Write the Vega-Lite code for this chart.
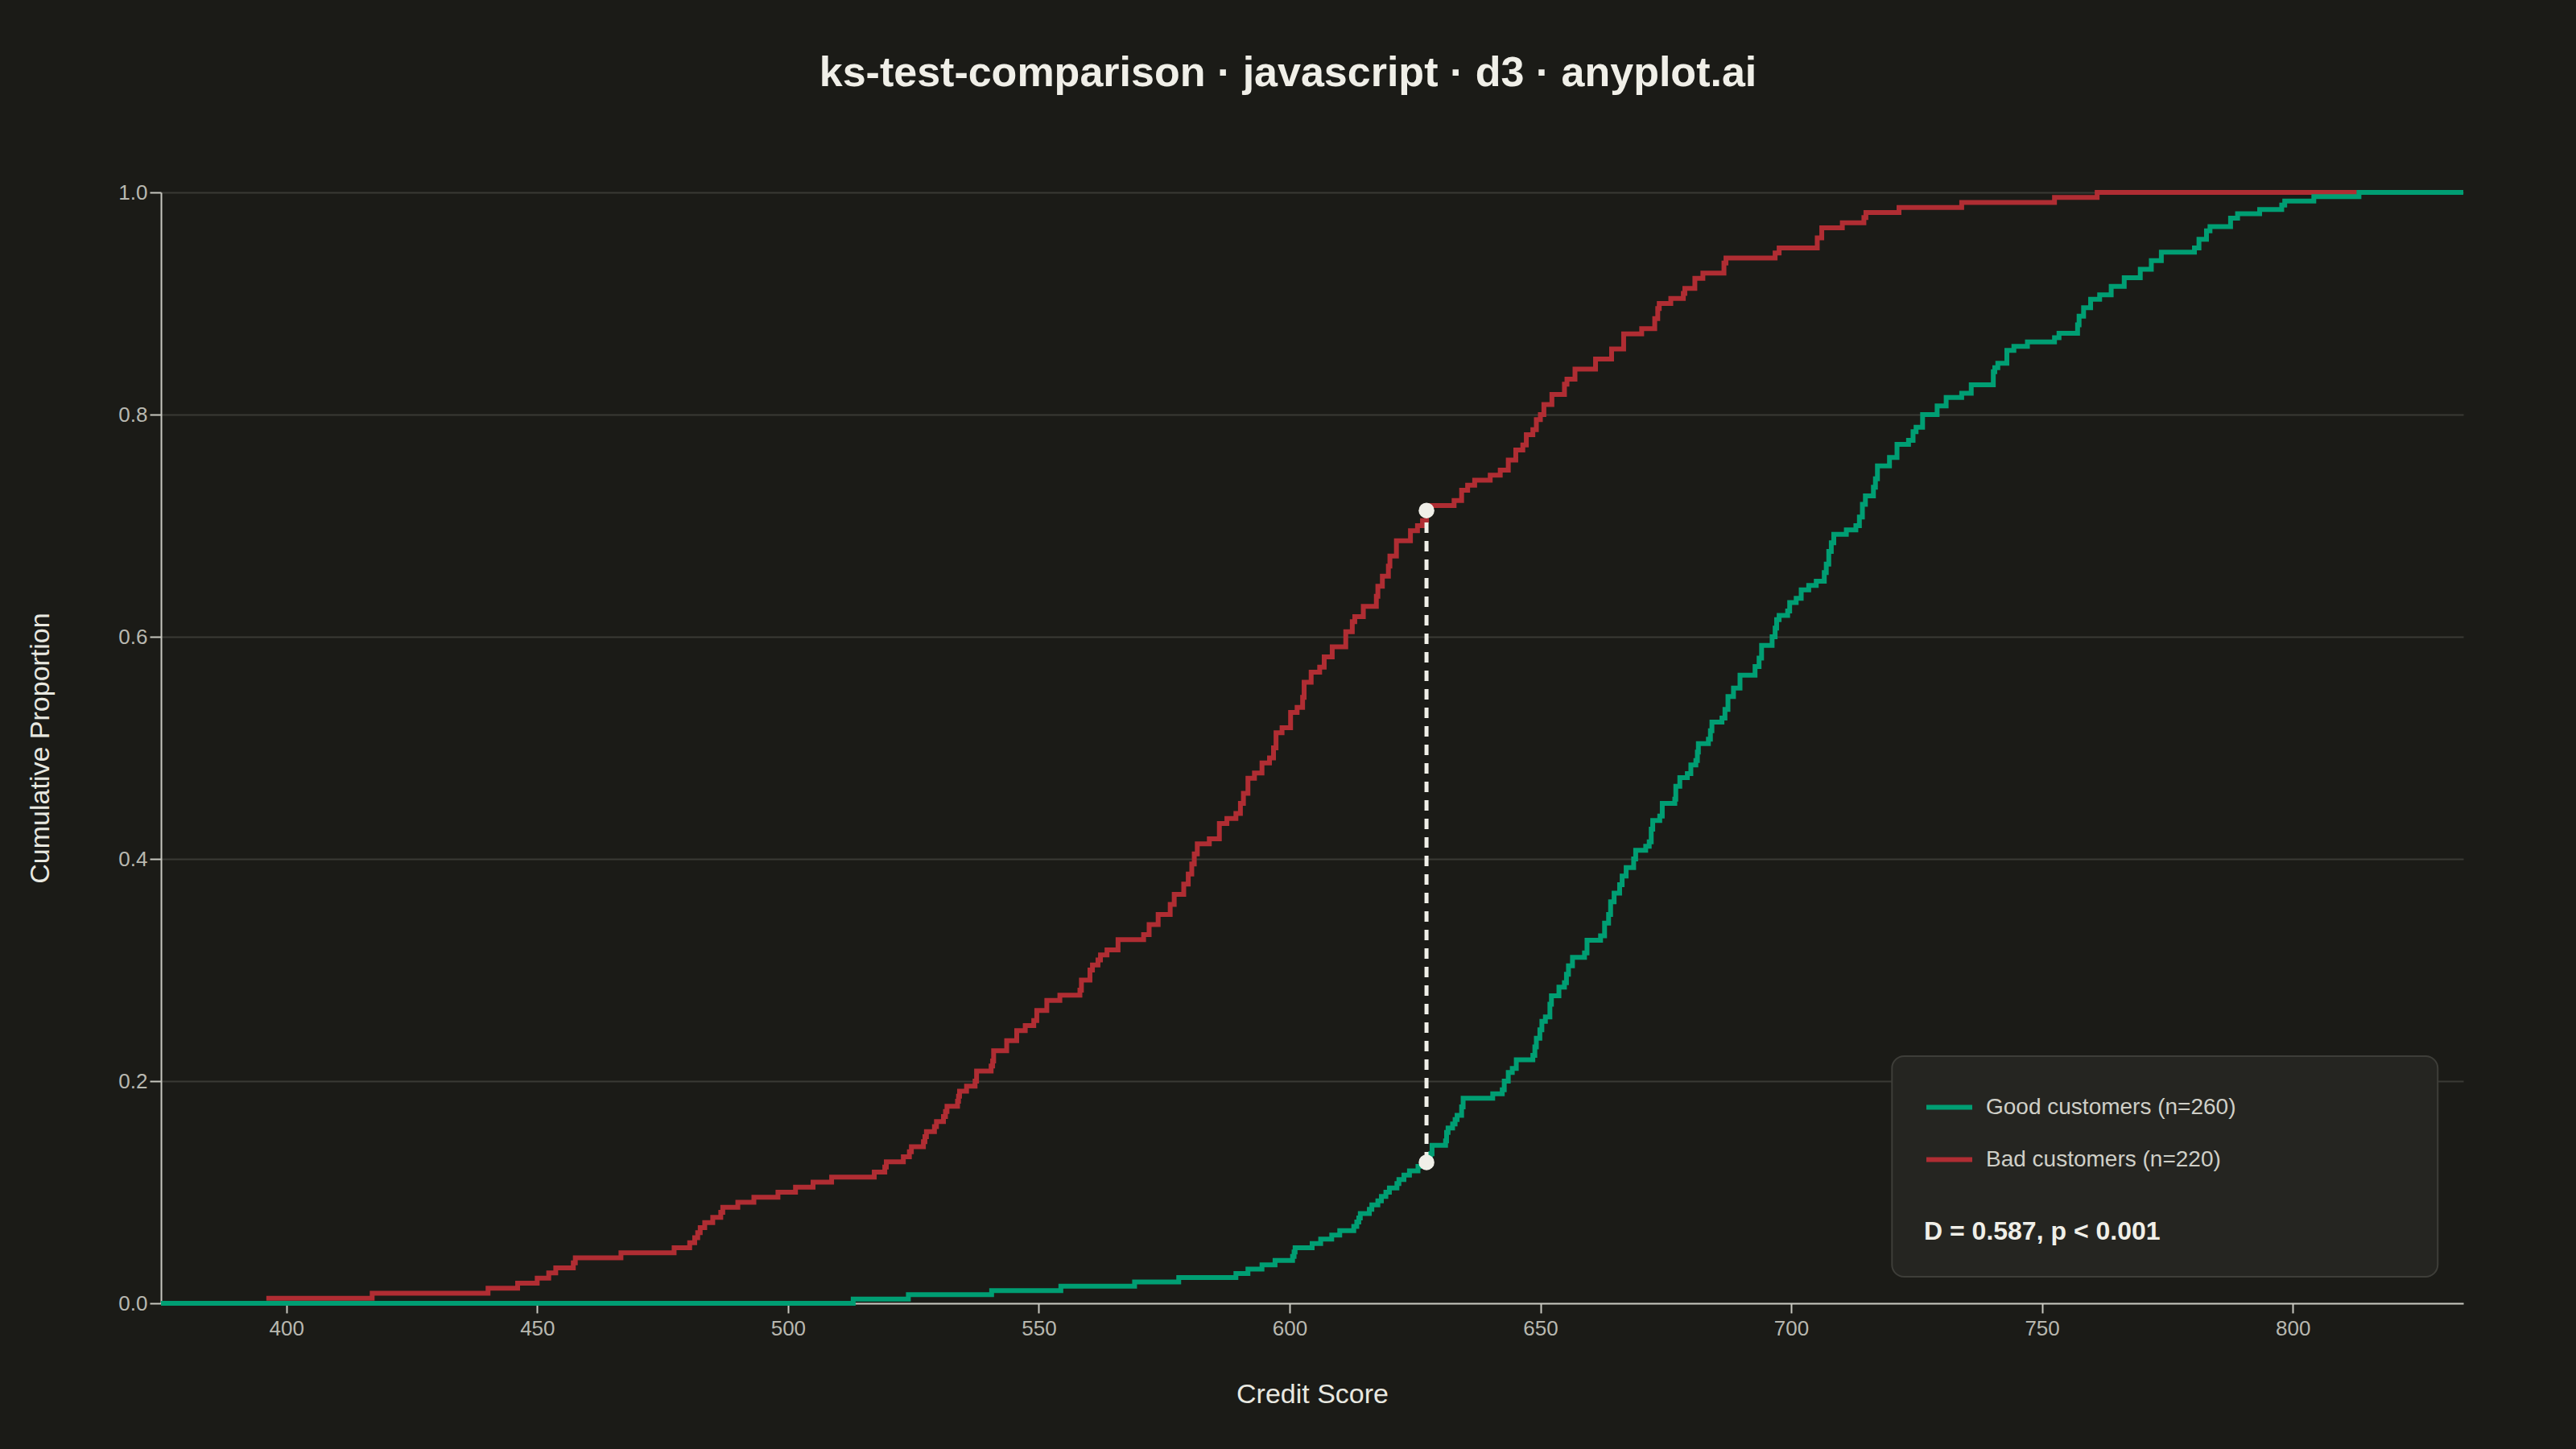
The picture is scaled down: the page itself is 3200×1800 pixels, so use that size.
{
  "$schema": "https://vega.github.io/schema/vega-lite/v6.json",
  "width": 2860,
  "height": 1380,
  "autosize": {"type": "none"},
  "padding": {"left": 200, "top": 239, "right": 140, "bottom": 181},
  "background": "#1b1b17",
  "title": {
    "text": "ks-test-comparison · javascript · d3 · anyplot.ai",
    "font": "Liberation Sans",
    "fontSize": 52,
    "fontWeight": "bold",
    "color": "#f0efe8",
    "anchor": "middle",
    "dx": -30,
    "offset": 67,
    "baseline": "alphabetic"
  },
  "datasets": {
    "ecdf": [
      {"score": 396, "proportion": 0.0045, "group": "Bad customers (n=220)"},
      {"score": 417.1, "proportion": 0.0091, "group": "Bad customers (n=220)"},
      {"score": 440.2, "proportion": 0.0136, "group": "Bad customers (n=220)"},
      {"score": 446.1, "proportion": 0.0182, "group": "Bad customers (n=220)"},
      {"score": 450.0, "proportion": 0.0227, "group": "Bad customers (n=220)"},
      {"score": 452.3, "proportion": 0.0273, "group": "Bad customers (n=220)"},
      {"score": 453.7, "proportion": 0.0318, "group": "Bad customers (n=220)"},
      {"score": 457.2, "proportion": 0.0364, "group": "Bad customers (n=220)"},
      {"score": 457.6, "proportion": 0.0409, "group": "Bad customers (n=220)"},
      {"score": 466.7, "proportion": 0.0455, "group": "Bad customers (n=220)"},
      {"score": 477.3, "proportion": 0.05, "group": "Bad customers (n=220)"},
      {"score": 480.4, "proportion": 0.0545, "group": "Bad customers (n=220)"},
      {"score": 481.4, "proportion": 0.0591, "group": "Bad customers (n=220)"},
      {"score": 482.0, "proportion": 0.0636, "group": "Bad customers (n=220)"},
      {"score": 482.5, "proportion": 0.0682, "group": "Bad customers (n=220)"},
      {"score": 483.4, "proportion": 0.0727, "group": "Bad customers (n=220)"},
      {"score": 485.0, "proportion": 0.0773, "group": "Bad customers (n=220)"},
      {"score": 486.6, "proportion": 0.0818, "group": "Bad customers (n=220)"},
      {"score": 487.0, "proportion": 0.0864, "group": "Bad customers (n=220)"},
      {"score": 490.0, "proportion": 0.0909, "group": "Bad customers (n=220)"},
      {"score": 493.2, "proportion": 0.0955, "group": "Bad customers (n=220)"},
      {"score": 498.0, "proportion": 0.1, "group": "Bad customers (n=220)"},
      {"score": 501.5, "proportion": 0.1045, "group": "Bad customers (n=220)"},
      {"score": 505.0, "proportion": 0.1091, "group": "Bad customers (n=220)"},
      {"score": 508.7, "proportion": 0.1136, "group": "Bad customers (n=220)"},
      {"score": 517.2, "proportion": 0.1182, "group": "Bad customers (n=220)"},
      {"score": 519.3, "proportion": 0.1227, "group": "Bad customers (n=220)"},
      {"score": 519.6, "proportion": 0.1273, "group": "Bad customers (n=220)"},
      {"score": 523.0, "proportion": 0.1318, "group": "Bad customers (n=220)"},
      {"score": 524.2, "proportion": 0.1364, "group": "Bad customers (n=220)"},
      {"score": 524.6, "proportion": 0.1409, "group": "Bad customers (n=220)"},
      {"score": 527.0, "proportion": 0.1455, "group": "Bad customers (n=220)"},
      {"score": 527.3, "proportion": 0.15, "group": "Bad customers (n=220)"},
      {"score": 527.6, "proportion": 0.1545, "group": "Bad customers (n=220)"},
      {"score": 529.2, "proportion": 0.1591, "group": "Bad customers (n=220)"},
      {"score": 529.6, "proportion": 0.1636, "group": "Bad customers (n=220)"},
      {"score": 531.0, "proportion": 0.1682, "group": "Bad customers (n=220)"},
      {"score": 531.4, "proportion": 0.1727, "group": "Bad customers (n=220)"},
      {"score": 531.7, "proportion": 0.1773, "group": "Bad customers (n=220)"},
      {"score": 533.8, "proportion": 0.1818, "group": "Bad customers (n=220)"},
      {"score": 534.0, "proportion": 0.1864, "group": "Bad customers (n=220)"},
      {"score": 534.2, "proportion": 0.1909, "group": "Bad customers (n=220)"},
      {"score": 535.6, "proportion": 0.1955, "group": "Bad customers (n=220)"},
      {"score": 537.3, "proportion": 0.2, "group": "Bad customers (n=220)"},
      {"score": 537.6, "proportion": 0.2091, "group": "Bad customers (n=220)"},
      {"score": 540.5, "proportion": 0.2136, "group": "Bad customers (n=220)"},
      {"score": 540.8, "proportion": 0.2182, "group": "Bad customers (n=220)"},
      {"score": 541.0, "proportion": 0.2273, "group": "Bad customers (n=220)"},
      {"score": 543.6, "proportion": 0.2364, "group": "Bad customers (n=220)"},
      {"score": 545.6, "proportion": 0.2455, "group": "Bad customers (n=220)"},
      {"score": 547.3, "proportion": 0.25, "group": "Bad customers (n=220)"},
      {"score": 549.0, "proportion": 0.2545, "group": "Bad customers (n=220)"},
      {"score": 549.6, "proportion": 0.2636, "group": "Bad customers (n=220)"},
      {"score": 551.6, "proportion": 0.2727, "group": "Bad customers (n=220)"},
      {"score": 554.2, "proportion": 0.2773, "group": "Bad customers (n=220)"},
      {"score": 558.2, "proportion": 0.2818, "group": "Bad customers (n=220)"},
      {"score": 558.5, "proportion": 0.2909, "group": "Bad customers (n=220)"},
      {"score": 560.2, "proportion": 0.3, "group": "Bad customers (n=220)"},
      {"score": 560.7, "proportion": 0.3045, "group": "Bad customers (n=220)"},
      {"score": 561.8, "proportion": 0.3091, "group": "Bad customers (n=220)"},
      {"score": 562.3, "proportion": 0.3136, "group": "Bad customers (n=220)"},
      {"score": 563.6, "proportion": 0.3182, "group": "Bad customers (n=220)"},
      {"score": 565.8, "proportion": 0.3273, "group": "Bad customers (n=220)"},
      {"score": 570.9, "proportion": 0.3318, "group": "Bad customers (n=220)"},
      {"score": 572.0, "proportion": 0.3409, "group": "Bad customers (n=220)"},
      {"score": 573.8, "proportion": 0.35, "group": "Bad customers (n=220)"},
      {"score": 576.2, "proportion": 0.3591, "group": "Bad customers (n=220)"},
      {"score": 577.0, "proportion": 0.3682, "group": "Bad customers (n=220)"},
      {"score": 578.9, "proportion": 0.3773, "group": "Bad customers (n=220)"},
      {"score": 579.8, "proportion": 0.3864, "group": "Bad customers (n=220)"},
      {"score": 580.5, "proportion": 0.3955, "group": "Bad customers (n=220)"},
      {"score": 581.0, "proportion": 0.4045, "group": "Bad customers (n=220)"},
      {"score": 581.6, "proportion": 0.4136, "group": "Bad customers (n=220)"},
      {"score": 584.0, "proportion": 0.4182, "group": "Bad customers (n=220)"},
      {"score": 586.0, "proportion": 0.4318, "group": "Bad customers (n=220)"},
      {"score": 587.5, "proportion": 0.4364, "group": "Bad customers (n=220)"},
      {"score": 589.3, "proportion": 0.4409, "group": "Bad customers (n=220)"},
      {"score": 590.2, "proportion": 0.45, "group": "Bad customers (n=220)"},
      {"score": 590.8, "proportion": 0.4591, "group": "Bad customers (n=220)"},
      {"score": 591.7, "proportion": 0.4727, "group": "Bad customers (n=220)"},
      {"score": 593.0, "proportion": 0.4773, "group": "Bad customers (n=220)"},
      {"score": 594.5, "proportion": 0.4864, "group": "Bad customers (n=220)"},
      {"score": 596.0, "proportion": 0.4909, "group": "Bad customers (n=220)"},
      {"score": 596.8, "proportion": 0.5, "group": "Bad customers (n=220)"},
      {"score": 597.3, "proportion": 0.5136, "group": "Bad customers (n=220)"},
      {"score": 598.5, "proportion": 0.5182, "group": "Bad customers (n=220)"},
      {"score": 600.2, "proportion": 0.5318, "group": "Bad customers (n=220)"},
      {"score": 601.5, "proportion": 0.5364, "group": "Bad customers (n=220)"},
      {"score": 602.6, "proportion": 0.5455, "group": "Bad customers (n=220)"},
      {"score": 602.9, "proportion": 0.5591, "group": "Bad customers (n=220)"},
      {"score": 604.3, "proportion": 0.5682, "group": "Bad customers (n=220)"},
      {"score": 606.0, "proportion": 0.5727, "group": "Bad customers (n=220)"},
      {"score": 606.9, "proportion": 0.5818, "group": "Bad customers (n=220)"},
      {"score": 608.5, "proportion": 0.5909, "group": "Bad customers (n=220)"},
      {"score": 611.2, "proportion": 0.6045, "group": "Bad customers (n=220)"},
      {"score": 612.5, "proportion": 0.6136, "group": "Bad customers (n=220)"},
      {"score": 613.0, "proportion": 0.6182, "group": "Bad customers (n=220)"},
      {"score": 614.7, "proportion": 0.6273, "group": "Bad customers (n=220)"},
      {"score": 617.3, "proportion": 0.6364, "group": "Bad customers (n=220)"},
      {"score": 617.6, "proportion": 0.6455, "group": "Bad customers (n=220)"},
      {"score": 618.5, "proportion": 0.6545, "group": "Bad customers (n=220)"},
      {"score": 619.7, "proportion": 0.6636, "group": "Bad customers (n=220)"},
      {"score": 620.0, "proportion": 0.6727, "group": "Bad customers (n=220)"},
      {"score": 621.3, "proportion": 0.6864, "group": "Bad customers (n=220)"},
      {"score": 624.1, "proportion": 0.6955, "group": "Bad customers (n=220)"},
      {"score": 625.5, "proportion": 0.7, "group": "Bad customers (n=220)"},
      {"score": 626.5, "proportion": 0.7045, "group": "Bad customers (n=220)"},
      {"score": 627.3, "proportion": 0.7136, "group": "Bad customers (n=220)"},
      {"score": 628.0, "proportion": 0.7182, "group": "Bad customers (n=220)"},
      {"score": 632.8, "proportion": 0.7227, "group": "Bad customers (n=220)"},
      {"score": 634.3, "proportion": 0.7318, "group": "Bad customers (n=220)"},
      {"score": 635.5, "proportion": 0.7364, "group": "Bad customers (n=220)"},
      {"score": 636.9, "proportion": 0.7409, "group": "Bad customers (n=220)"},
      {"score": 640.0, "proportion": 0.7455, "group": "Bad customers (n=220)"},
      {"score": 642.0, "proportion": 0.75, "group": "Bad customers (n=220)"},
      {"score": 643.6, "proportion": 0.7591, "group": "Bad customers (n=220)"},
      {"score": 645.1, "proportion": 0.7682, "group": "Bad customers (n=220)"},
      {"score": 646.5, "proportion": 0.7727, "group": "Bad customers (n=220)"},
      {"score": 647.2, "proportion": 0.7818, "group": "Bad customers (n=220)"},
      {"score": 648.5, "proportion": 0.7864, "group": "Bad customers (n=220)"},
      {"score": 649.2, "proportion": 0.7955, "group": "Bad customers (n=220)"},
      {"score": 650.0, "proportion": 0.8, "group": "Bad customers (n=220)"},
      {"score": 650.7, "proportion": 0.8091, "group": "Bad customers (n=220)"},
      {"score": 652.3, "proportion": 0.8182, "group": "Bad customers (n=220)"},
      {"score": 654.8, "proportion": 0.8273, "group": "Bad customers (n=220)"},
      {"score": 655.3, "proportion": 0.8318, "group": "Bad customers (n=220)"},
      {"score": 656.9, "proportion": 0.8409, "group": "Bad customers (n=220)"},
      {"score": 661.0, "proportion": 0.85, "group": "Bad customers (n=220)"},
      {"score": 664.2, "proportion": 0.8591, "group": "Bad customers (n=220)"},
      {"score": 666.6, "proportion": 0.8727, "group": "Bad customers (n=220)"},
      {"score": 670.2, "proportion": 0.8773, "group": "Bad customers (n=220)"},
      {"score": 672.8, "proportion": 0.8864, "group": "Bad customers (n=220)"},
      {"score": 673.4, "proportion": 0.8955, "group": "Bad customers (n=220)"},
      {"score": 673.7, "proportion": 0.9, "group": "Bad customers (n=220)"},
      {"score": 676.0, "proportion": 0.9045, "group": "Bad customers (n=220)"},
      {"score": 678.5, "proportion": 0.9091, "group": "Bad customers (n=220)"},
      {"score": 678.8, "proportion": 0.9136, "group": "Bad customers (n=220)"},
      {"score": 680.8, "proportion": 0.9227, "group": "Bad customers (n=220)"},
      {"score": 682.4, "proportion": 0.9273, "group": "Bad customers (n=220)"},
      {"score": 686.6, "proportion": 0.9364, "group": "Bad customers (n=220)"},
      {"score": 687.0, "proportion": 0.9409, "group": "Bad customers (n=220)"},
      {"score": 696.8, "proportion": 0.9455, "group": "Bad customers (n=220)"},
      {"score": 697.6, "proportion": 0.95, "group": "Bad customers (n=220)"},
      {"score": 705.2, "proportion": 0.9591, "group": "Bad customers (n=220)"},
      {"score": 706.1, "proportion": 0.9682, "group": "Bad customers (n=220)"},
      {"score": 710.2, "proportion": 0.9727, "group": "Bad customers (n=220)"},
      {"score": 714.5, "proportion": 0.9773, "group": "Bad customers (n=220)"},
      {"score": 714.9, "proportion": 0.9818, "group": "Bad customers (n=220)"},
      {"score": 721.5, "proportion": 0.9864, "group": "Bad customers (n=220)"},
      {"score": 734.0, "proportion": 0.9909, "group": "Bad customers (n=220)"},
      {"score": 752.5, "proportion": 0.9955, "group": "Bad customers (n=220)"},
      {"score": 761.0, "proportion": 1.0, "group": "Bad customers (n=220)"},
      {"score": 812.8, "proportion": 1.0, "group": "Bad customers (n=220)"},
      {"score": 375, "proportion": 0, "group": "Good customers (n=260)"},
      {"score": 513.0, "proportion": 0.0038, "group": "Good customers (n=260)"},
      {"score": 524.0, "proportion": 0.0077, "group": "Good customers (n=260)"},
      {"score": 540.6, "proportion": 0.0115, "group": "Good customers (n=260)"},
      {"score": 554.4, "proportion": 0.0154, "group": "Good customers (n=260)"},
      {"score": 569.1, "proportion": 0.0192, "group": "Good customers (n=260)"},
      {"score": 577.9, "proportion": 0.0231, "group": "Good customers (n=260)"},
      {"score": 589.3, "proportion": 0.0269, "group": "Good customers (n=260)"},
      {"score": 591.7, "proportion": 0.0308, "group": "Good customers (n=260)"},
      {"score": 594.5, "proportion": 0.0346, "group": "Good customers (n=260)"},
      {"score": 597.1, "proportion": 0.0385, "group": "Good customers (n=260)"},
      {"score": 600.6, "proportion": 0.0423, "group": "Good customers (n=260)"},
      {"score": 600.9, "proportion": 0.0462, "group": "Good customers (n=260)"},
      {"score": 601.1, "proportion": 0.05, "group": "Good customers (n=260)"},
      {"score": 604.5, "proportion": 0.0538, "group": "Good customers (n=260)"},
      {"score": 606.2, "proportion": 0.0577, "group": "Good customers (n=260)"},
      {"score": 608.4, "proportion": 0.0615, "group": "Good customers (n=260)"},
      {"score": 610.0, "proportion": 0.0654, "group": "Good customers (n=260)"},
      {"score": 612.8, "proportion": 0.0692, "group": "Good customers (n=260)"},
      {"score": 613.4, "proportion": 0.0731, "group": "Good customers (n=260)"},
      {"score": 613.8, "proportion": 0.0769, "group": "Good customers (n=260)"},
      {"score": 614.1, "proportion": 0.0808, "group": "Good customers (n=260)"},
      {"score": 615.9, "proportion": 0.0846, "group": "Good customers (n=260)"},
      {"score": 616.4, "proportion": 0.0885, "group": "Good customers (n=260)"},
      {"score": 617.6, "proportion": 0.0923, "group": "Good customers (n=260)"},
      {"score": 618.3, "proportion": 0.0962, "group": "Good customers (n=260)"},
      {"score": 619.2, "proportion": 0.1, "group": "Good customers (n=260)"},
      {"score": 619.9, "proportion": 0.1038, "group": "Good customers (n=260)"},
      {"score": 621.4, "proportion": 0.1077, "group": "Good customers (n=260)"},
      {"score": 621.8, "proportion": 0.1115, "group": "Good customers (n=260)"},
      {"score": 622.8, "proportion": 0.1154, "group": "Good customers (n=260)"},
      {"score": 623.9, "proportion": 0.1192, "group": "Good customers (n=260)"},
      {"score": 625.6, "proportion": 0.1231, "group": "Good customers (n=260)"},
      {"score": 627.3, "proportion": 0.1269, "group": "Good customers (n=260)"},
      {"score": 628.1, "proportion": 0.1346, "group": "Good customers (n=260)"},
      {"score": 628.4, "proportion": 0.1423, "group": "Good customers (n=260)"},
      {"score": 631.1, "proportion": 0.1462, "group": "Good customers (n=260)"},
      {"score": 631.3, "proportion": 0.1538, "group": "Good customers (n=260)"},
      {"score": 631.6, "proportion": 0.1577, "group": "Good customers (n=260)"},
      {"score": 632.5, "proportion": 0.1615, "group": "Good customers (n=260)"},
      {"score": 633.0, "proportion": 0.1654, "group": "Good customers (n=260)"},
      {"score": 633.4, "proportion": 0.1692, "group": "Good customers (n=260)"},
      {"score": 634.3, "proportion": 0.1769, "group": "Good customers (n=260)"},
      {"score": 634.6, "proportion": 0.1846, "group": "Good customers (n=260)"},
      {"score": 640.5, "proportion": 0.1885, "group": "Good customers (n=260)"},
      {"score": 642.4, "proportion": 0.1923, "group": "Good customers (n=260)"},
      {"score": 642.8, "proportion": 0.2, "group": "Good customers (n=260)"},
      {"score": 643.6, "proportion": 0.2077, "group": "Good customers (n=260)"},
      {"score": 644.4, "proportion": 0.2115, "group": "Good customers (n=260)"},
      {"score": 645.2, "proportion": 0.2192, "group": "Good customers (n=260)"},
      {"score": 648.5, "proportion": 0.2231, "group": "Good customers (n=260)"},
      {"score": 648.9, "proportion": 0.2308, "group": "Good customers (n=260)"},
      {"score": 649.2, "proportion": 0.2385, "group": "Good customers (n=260)"},
      {"score": 649.9, "proportion": 0.2462, "group": "Good customers (n=260)"},
      {"score": 650.3, "proportion": 0.2538, "group": "Good customers (n=260)"},
      {"score": 651.0, "proportion": 0.2577, "group": "Good customers (n=260)"},
      {"score": 651.9, "proportion": 0.2692, "group": "Good customers (n=260)"},
      {"score": 652.2, "proportion": 0.2769, "group": "Good customers (n=260)"},
      {"score": 653.7, "proportion": 0.2846, "group": "Good customers (n=260)"},
      {"score": 654.8, "proportion": 0.2885, "group": "Good customers (n=260)"},
      {"score": 655.2, "proportion": 0.2962, "group": "Good customers (n=260)"},
      {"score": 655.6, "proportion": 0.3038, "group": "Good customers (n=260)"},
      {"score": 656.4, "proportion": 0.3115, "group": "Good customers (n=260)"},
      {"score": 658.8, "proportion": 0.3154, "group": "Good customers (n=260)"},
      {"score": 659.3, "proportion": 0.3269, "group": "Good customers (n=260)"},
      {"score": 662.0, "proportion": 0.3308, "group": "Good customers (n=260)"},
      {"score": 662.8, "proportion": 0.3423, "group": "Good customers (n=260)"},
      {"score": 663.6, "proportion": 0.35, "group": "Good customers (n=260)"},
      {"score": 664.0, "proportion": 0.3615, "group": "Good customers (n=260)"},
      {"score": 664.7, "proportion": 0.3692, "group": "Good customers (n=260)"},
      {"score": 665.8, "proportion": 0.3769, "group": "Good customers (n=260)"},
      {"score": 666.3, "proportion": 0.3846, "group": "Good customers (n=260)"},
      {"score": 667.1, "proportion": 0.3923, "group": "Good customers (n=260)"},
      {"score": 668.6, "proportion": 0.4, "group": "Good customers (n=260)"},
      {"score": 669.0, "proportion": 0.4077, "group": "Good customers (n=260)"},
      {"score": 671.0, "proportion": 0.4115, "group": "Good customers (n=260)"},
      {"score": 671.7, "proportion": 0.4154, "group": "Good customers (n=260)"},
      {"score": 672.1, "proportion": 0.4269, "group": "Good customers (n=260)"},
      {"score": 672.4, "proportion": 0.4346, "group": "Good customers (n=260)"},
      {"score": 673.8, "proportion": 0.4385, "group": "Good customers (n=260)"},
      {"score": 674.3, "proportion": 0.45, "group": "Good customers (n=260)"},
      {"score": 676.8, "proportion": 0.4538, "group": "Good customers (n=260)"},
      {"score": 677.0, "proportion": 0.4654, "group": "Good customers (n=260)"},
      {"score": 677.8, "proportion": 0.4731, "group": "Good customers (n=260)"},
      {"score": 679.3, "proportion": 0.4769, "group": "Good customers (n=260)"},
      {"score": 680.0, "proportion": 0.4846, "group": "Good customers (n=260)"},
      {"score": 681.0, "proportion": 0.4885, "group": "Good customers (n=260)"},
      {"score": 681.3, "proportion": 0.4962, "group": "Good customers (n=260)"},
      {"score": 681.5, "proportion": 0.5038, "group": "Good customers (n=260)"},
      {"score": 683.5, "proportion": 0.5077, "group": "Good customers (n=260)"},
      {"score": 683.9, "proportion": 0.5154, "group": "Good customers (n=260)"},
      {"score": 684.2, "proportion": 0.5231, "group": "Good customers (n=260)"},
      {"score": 686.2, "proportion": 0.5269, "group": "Good customers (n=260)"},
      {"score": 686.8, "proportion": 0.5346, "group": "Good customers (n=260)"},
      {"score": 687.4, "proportion": 0.5462, "group": "Good customers (n=260)"},
      {"score": 688.5, "proportion": 0.5538, "group": "Good customers (n=260)"},
      {"score": 689.8, "proportion": 0.5654, "group": "Good customers (n=260)"},
      {"score": 692.8, "proportion": 0.5731, "group": "Good customers (n=260)"},
      {"score": 693.6, "proportion": 0.5808, "group": "Good customers (n=260)"},
      {"score": 694.1, "proportion": 0.5923, "group": "Good customers (n=260)"},
      {"score": 696.2, "proportion": 0.6, "group": "Good customers (n=260)"},
      {"score": 696.8, "proportion": 0.6077, "group": "Good customers (n=260)"},
      {"score": 697.1, "proportion": 0.6154, "group": "Good customers (n=260)"},
      {"score": 697.6, "proportion": 0.6192, "group": "Good customers (n=260)"},
      {"score": 699.3, "proportion": 0.6231, "group": "Good customers (n=260)"},
      {"score": 699.7, "proportion": 0.6308, "group": "Good customers (n=260)"},
      {"score": 701.0, "proportion": 0.6346, "group": "Good customers (n=260)"},
      {"score": 702.0, "proportion": 0.6423, "group": "Good customers (n=260)"},
      {"score": 703.5, "proportion": 0.6462, "group": "Good customers (n=260)"},
      {"score": 705.0, "proportion": 0.65, "group": "Good customers (n=260)"},
      {"score": 706.6, "proportion": 0.6577, "group": "Good customers (n=260)"},
      {"score": 707.0, "proportion": 0.6654, "group": "Good customers (n=260)"},
      {"score": 707.5, "proportion": 0.6769, "group": "Good customers (n=260)"},
      {"score": 708.0, "proportion": 0.6846, "group": "Good customers (n=260)"},
      {"score": 708.5, "proportion": 0.6923, "group": "Good customers (n=260)"},
      {"score": 711.0, "proportion": 0.6962, "group": "Good customers (n=260)"},
      {"score": 712.9, "proportion": 0.7, "group": "Good customers (n=260)"},
      {"score": 713.6, "proportion": 0.7077, "group": "Good customers (n=260)"},
      {"score": 714.2, "proportion": 0.7192, "group": "Good customers (n=260)"},
      {"score": 714.8, "proportion": 0.7269, "group": "Good customers (n=260)"},
      {"score": 716.4, "proportion": 0.7346, "group": "Good customers (n=260)"},
      {"score": 716.8, "proportion": 0.7423, "group": "Good customers (n=260)"},
      {"score": 717.2, "proportion": 0.7538, "group": "Good customers (n=260)"},
      {"score": 719.6, "proportion": 0.7615, "group": "Good customers (n=260)"},
      {"score": 721.1, "proportion": 0.7731, "group": "Good customers (n=260)"},
      {"score": 723.4, "proportion": 0.7769, "group": "Good customers (n=260)"},
      {"score": 724.3, "proportion": 0.7846, "group": "Good customers (n=260)"},
      {"score": 724.9, "proportion": 0.7885, "group": "Good customers (n=260)"},
      {"score": 726.2, "proportion": 0.8, "group": "Good customers (n=260)"},
      {"score": 729.1, "proportion": 0.8077, "group": "Good customers (n=260)"},
      {"score": 730.9, "proportion": 0.8154, "group": "Good customers (n=260)"},
      {"score": 734.0, "proportion": 0.8192, "group": "Good customers (n=260)"},
      {"score": 735.9, "proportion": 0.8269, "group": "Good customers (n=260)"},
      {"score": 740.3, "proportion": 0.8385, "group": "Good customers (n=260)"},
      {"score": 740.6, "proportion": 0.8423, "group": "Good customers (n=260)"},
      {"score": 741.2, "proportion": 0.8462, "group": "Good customers (n=260)"},
      {"score": 743.0, "proportion": 0.8577, "group": "Good customers (n=260)"},
      {"score": 744.4, "proportion": 0.8615, "group": "Good customers (n=260)"},
      {"score": 747.1, "proportion": 0.8654, "group": "Good customers (n=260)"},
      {"score": 752.5, "proportion": 0.8692, "group": "Good customers (n=260)"},
      {"score": 753.4, "proportion": 0.8731, "group": "Good customers (n=260)"},
      {"score": 757.1, "proportion": 0.8808, "group": "Good customers (n=260)"},
      {"score": 757.4, "proportion": 0.8885, "group": "Good customers (n=260)"},
      {"score": 758.3, "proportion": 0.8962, "group": "Good customers (n=260)"},
      {"score": 759.7, "proportion": 0.9038, "group": "Good customers (n=260)"},
      {"score": 761.5, "proportion": 0.9077, "group": "Good customers (n=260)"},
      {"score": 763.8, "proportion": 0.9154, "group": "Good customers (n=260)"},
      {"score": 766.4, "proportion": 0.9231, "group": "Good customers (n=260)"},
      {"score": 769.6, "proportion": 0.9308, "group": "Good customers (n=260)"},
      {"score": 771.8, "proportion": 0.9385, "group": "Good customers (n=260)"},
      {"score": 773.8, "proportion": 0.9462, "group": "Good customers (n=260)"},
      {"score": 780.4, "proportion": 0.95, "group": "Good customers (n=260)"},
      {"score": 781.3, "proportion": 0.9577, "group": "Good customers (n=260)"},
      {"score": 782.8, "proportion": 0.9654, "group": "Good customers (n=260)"},
      {"score": 783.5, "proportion": 0.9692, "group": "Good customers (n=260)"},
      {"score": 787.6, "proportion": 0.9769, "group": "Good customers (n=260)"},
      {"score": 789.0, "proportion": 0.9808, "group": "Good customers (n=260)"},
      {"score": 793.4, "proportion": 0.9846, "group": "Good customers (n=260)"},
      {"score": 797.8, "proportion": 0.9885, "group": "Good customers (n=260)"},
      {"score": 798.4, "proportion": 0.9923, "group": "Good customers (n=260)"},
      {"score": 804.2, "proportion": 0.9962, "group": "Good customers (n=260)"},
      {"score": 813.2, "proportion": 1.0, "group": "Good customers (n=260)"},
      {"score": 834, "proportion": 1.0, "group": "Good customers (n=260)"}
    ],
    "ks": [
      {"score": 627.3, "proportion": 0.1269},
      {"score": 627.3, "proportion": 0.7136}
    ],
    "box": [
      {"panel": "legend"}
    ]
  },
  "layer": [
    {
      "data": {"name": "box"},
      "mark": {
        "type": "rect",
        "fill": "#252521",
        "stroke": "#3e3e39",
        "strokeWidth": 2,
        "cornerRadius": 15
      },
      "encoding": {
        "x": {"datum": 720.1, "type": "quantitative"},
        "x2": {"datum": 828.9},
        "y": {"datum": 0.0239, "type": "quantitative"},
        "y2": {"datum": 0.2225}
      }
    },
    {
      "data": {"name": "ecdf"},
      "mark": {"type": "line", "interpolate": "step-after", "strokeWidth": 6},
      "encoding": {
        "x": {
          "field": "score",
          "type": "quantitative",
          "title": "Credit Score",
          "scale": {"domain": [375, 834], "nice": false, "zero": false},
          "axis": {"values": [400, 450, 500, 550, 600, 650, 700, 750, 800], "labelFlush": false}
        },
        "y": {
          "field": "proportion",
          "type": "quantitative",
          "title": "Cumulative Proportion",
          "scale": {"domain": [0, 1], "nice": false},
          "axis": {"values": [0, 0.2, 0.4, 0.6, 0.8, 1.0], "format": ".1f", "labelFlush": false}
        },
        "color": {
          "field": "group",
          "type": "nominal",
          "scale": {
            "domain": ["Good customers (n=260)", "Bad customers (n=220)"],
            "range": ["#009e73", "#b02d33"]
          },
          "legend": {
            "orient": "none",
            "legendX": 2190,
            "legendY": 1105,
            "padding": 0,
            "title": "D = 0.587, p < 0.001",
            "titleOrient": "bottom",
            "titleAnchor": "start",
            "titleFont": "Liberation Sans",
            "titleFontSize": 32,
            "titleFontWeight": "bold",
            "titleColor": "#f0efe8",
            "titlePadding": 60,
            "titleLimit": 800,
            "symbolType": "stroke",
            "symbolSize": 3249,
            "symbolStrokeWidth": 6,
            "labelFont": "Liberation Sans",
            "labelFontSize": 28,
            "labelColor": "#cfcfc7",
            "labelOffset": 14,
            "labelLimit": 800,
            "rowPadding": 19
          }
        }
      }
    },
    {
      "data": {"name": "ks"},
      "mark": {"type": "line", "strokeDash": [13, 10], "strokeWidth": 5, "color": "#f0efe8"},
      "encoding": {
        "x": {"field": "score", "type": "quantitative"},
        "y": {"field": "proportion", "type": "quantitative"}
      }
    },
    {
      "data": {"name": "ks"},
      "mark": {"type": "circle", "size": 380, "color": "#f0efe8", "opacity": 1},
      "encoding": {
        "x": {"field": "score", "type": "quantitative"},
        "y": {"field": "proportion", "type": "quantitative"}
      }
    }
  ],
  "config": {
    "view": {"stroke": null},
    "font": "Liberation Sans",
    "axis": {
      "domainColor": "#c8c8c0",
      "domainWidth": 2,
      "tickColor": "#c8c8c0",
      "tickWidth": 2,
      "labelColor": "#b8b8b0",
      "labelFont": "Liberation Sans",
      "labelFontSize": 26,
      "titleColor": "#e8e8e0",
      "titleFont": "Liberation Sans",
      "titleFontSize": 34,
      "titleFontWeight": "normal",
      "gridColor": "#3a3a35",
      "gridWidth": 2
    },
    "axisX": {"grid": false, "tickSize": 12, "labelPadding": 6, "titlePadding": 52},
    "axisY": {"grid": true, "tickSize": 14, "labelPadding": 3, "titlePadding": 79}
  }
}
